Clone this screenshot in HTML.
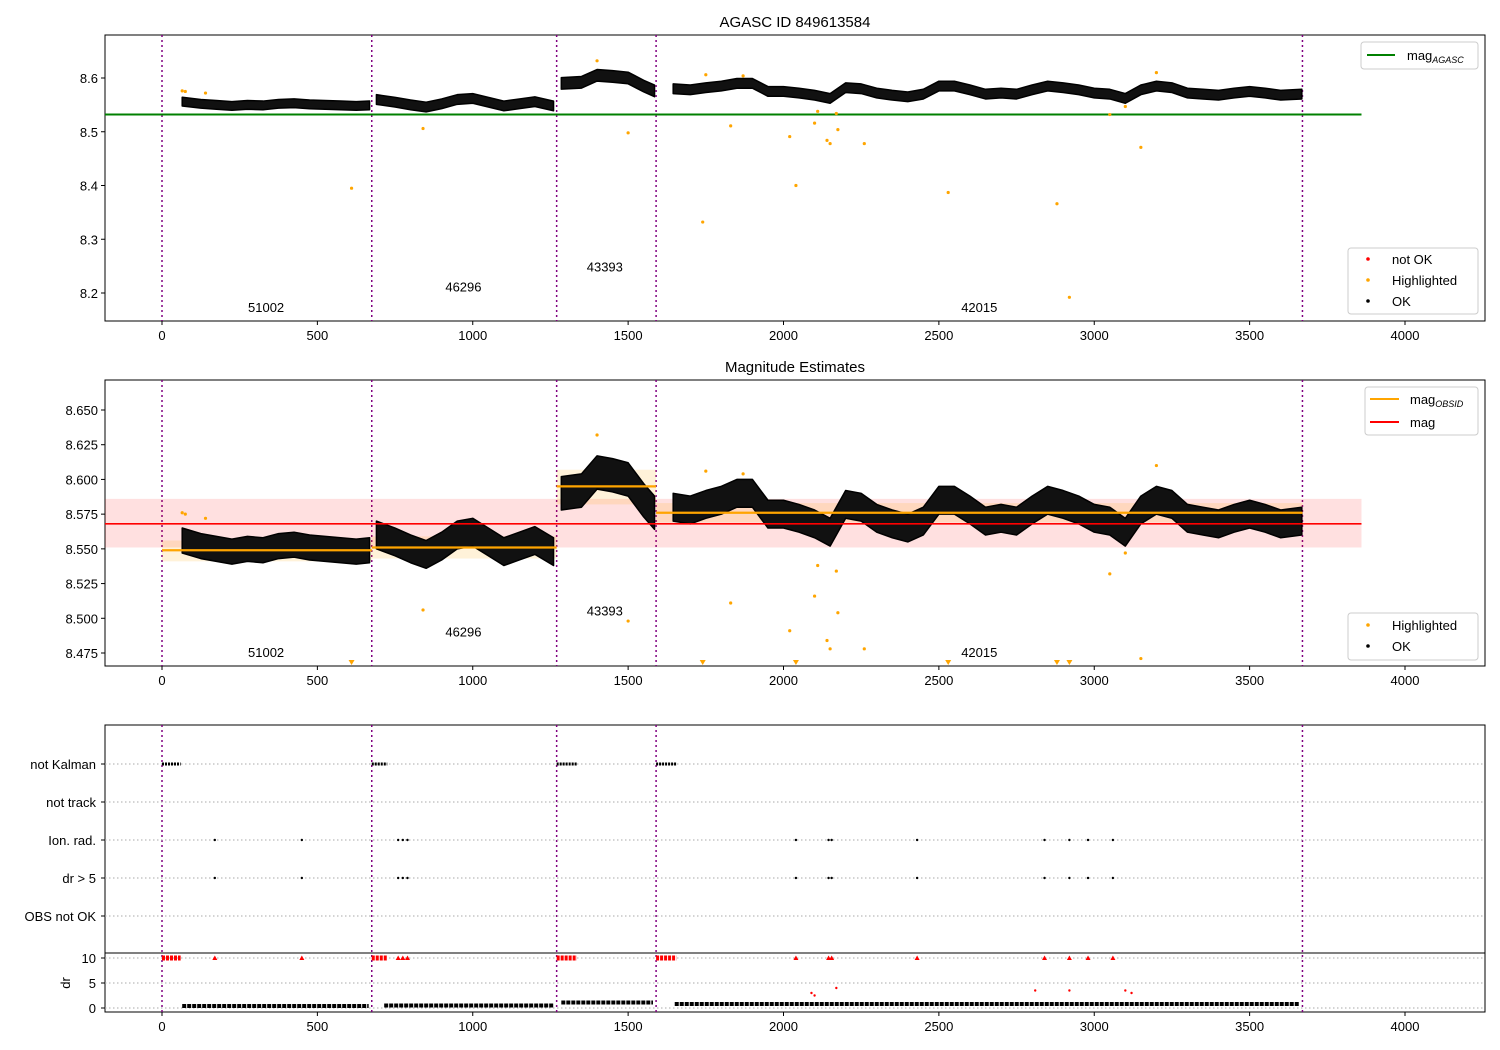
<!DOCTYPE html>
<html><head><meta charset="utf-8"><style>
body{margin:0;background:#fff;}
svg{display:block;font-family:"Liberation Sans","DejaVu Sans",sans-serif;}
</style></head><body>
<svg id="fig" width="1500" height="1050" viewBox="0 0 1500 1050"></svg>
<script>
// ---------- data ----------
const obsStarts = [0, 675, 1270, 1590];
const obsEnd = 3670;
const obsIds = ["51002", "46296", "43393", "42015"];
const obsLabelT = [335, 970, 1425, 2630];
const obsLabelP1 = [8.165, 8.203, 8.240, 8.165];
const obsLabelP2 = [8.472, 8.487, 8.502, 8.472];
const seg1T = [65,125,175,225,275,325,375,425,475,525,575,625,668];
const seg1M = [8.556,8.552,8.550,8.548,8.550,8.549,8.552,8.553,8.551,8.550,8.549,8.548,8.549];
const seg2T = [690,750,800,850,900,950,1000,1050,1100,1150,1200,1260];
const seg2M = [8.560,8.555,8.550,8.546,8.552,8.560,8.562,8.555,8.548,8.552,8.556,8.548];
const seg3T = [1285,1350,1400,1450,1500,1550,1585];
const seg3M = [8.590,8.592,8.605,8.603,8.600,8.585,8.576];
const seg4T = [1645,1700,1750,1800,1850,1900,1950,2000,2050,2100,2150,2200,2250,2300,2350,2400,2450,2500,2550,2600,2650,2700,2750,2800,2850,2900,2950,3000,3050,3100,3150,3200,3250,3300,3350,3400,3450,3500,3550,3600,3668];
const seg4M = [8.580,8.578,8.582,8.585,8.590,8.590,8.575,8.575,8.572,8.568,8.562,8.582,8.580,8.572,8.568,8.565,8.570,8.585,8.585,8.578,8.570,8.572,8.570,8.578,8.585,8.582,8.578,8.572,8.570,8.562,8.578,8.585,8.582,8.572,8.570,8.568,8.572,8.575,8.572,8.568,8.570];
const segSpread = [0.009, 0.010, 0.012, 0.010];
const hlT = [65,75,140,610,840,1400,1500,1740,1750,1830,1870,2020,2040,2100,2110,2140,2150,2170,2175,2260,2530,2880,2920,3050,3100,3150,3200];
const hlM = [8.576,8.575,8.572,8.395,8.506,8.632,8.498,8.332,8.606,8.511,8.604,8.491,8.400,8.516,8.538,8.484,8.478,8.534,8.504,8.478,8.387,8.366,8.192,8.532,8.547,8.471,8.610];
const magAgasc = 8.532;
const magMean = 8.568, magLo = 8.551, magHi = 8.586;
const obsMag = [8.549, 8.551, 8.595, 8.576];
const obsLo = [8.541, 8.543, 8.582, 8.569];
const obsHi = [8.556, 8.559, 8.607, 8.583];
const flagNames = ["not Kalman","not track","Ion. rad.","dr > 5","OBS not OK"];
const kalmanStart = [0, 675, 1270, 1590];
const kalmanEnd = [60, 725, 1335, 1655];
const ionT = [170,450,760,775,790,2040,2145,2155,2430,2840,2920,2980,3060];
const drStart = [65, 715, 1285, 1650];
const drSeg = [0.4, 0.5, 1.1, 0.8];
const drRedT = [2090,2100,2170,2810,2920,3100,3120];
const drRedV = [3.0,2.5,4.0,3.5,3.5,3.5,3.0];
const xTicks = [0,500,1000,1500,2000,2500,3000,3500,4000];
const p1Ticks = [8.2,8.3,8.4,8.5,8.6];
const p2Ticks = [8.475,8.500,8.525,8.550,8.575,8.600,8.625,8.650];
const drTicks = [0,5,10];

// ---------- scales ----------
const X0 = 105, X1 = 1485;
const sx = t => 162 + t * 1243 / 4000;
const sy1 = m => 78 + (8.6 - m) * 537.5;
const sy2 = m => 653 - (m - 8.475) * 1388.6;
const syDr = d => 1008 - d * 5.0;
const flagY = [764, 802, 840, 878, 916];
const NS = "http://www.w3.org/2000/svg";
const svg = document.getElementById("fig");
function mk(tag, a, p){const e=document.createElementNS(NS,tag);for(const k in a)e.setAttribute(k,a[k]);(p||svg).appendChild(e);return e;}
function txt(s,x,y,a,p){const e=mk("text",Object.assign({x:x,y:y,"font-size":13,fill:"#000"},a||{}),p);e.textContent=s;return e;}

function frame(top,bot,name){
  const g=mk("g",{});
  
  
  mk("rect",{x:X0,y:top,width:X1-X0,height:bot-top,fill:"none",stroke:"#000","stroke-width":1},g);
  xTicks.forEach(t=>{
    mk("line",{x1:sx(t),x2:sx(t),y1:bot,y2:bot+4,stroke:"#000"},g);
    const l=txt(String(t),sx(t),bot+19,{"text-anchor":"middle"},g);
    
    
  });
  obsStarts.concat([obsEnd]).forEach(t=>{
    const v=mk("line",{x1:sx(t),x2:sx(t),y1:top,y2:bot,stroke:"#800080","stroke-width":1.5,"stroke-dasharray":"2,3"},g);
    
    
  });
  return g;
}
const segsT=[seg1T,seg2T,seg3T,seg4T], segsM=[seg1M,seg2M,seg3M,seg4M];
function bands(sy,g,sw,scale){
  segsT.forEach((T,i)=>{
    const M=segsM[i], s=segSpread[i]*scale;
    let up=T.map((t,j)=>sx(t)+","+sy(M[j]+s)), lo=T.map((t,j)=>sx(t)+","+sy(M[j]-s)).reverse();
    const p=mk("polygon",{points:up.concat(lo).join(" "),fill:"#111",stroke:"#000","stroke-width":sw,"stroke-linejoin":"round"},g);
    
    
  });
}

// ===== Panel 1 =====
const t1=txt("AGASC ID 849613584",795,27,{"text-anchor":"middle","font-size":15});


const g1=frame(35,321,"agasc-panel");
p1Ticks.forEach(v=>{mk("line",{x1:X0-4,x2:X0,y1:sy1(v),y2:sy1(v),stroke:"#000"},g1);txt(v.toFixed(1),X0-7,sy1(v)+5,{"text-anchor":"end"},g1);});
const ga=mk("line",{x1:X0,x2:sx(3860),y1:sy1(magAgasc),y2:sy1(magAgasc),stroke:"green","stroke-width":2},g1);


bands(sy1,g1,1.5,0.9);
hlT.forEach((t,i)=>{const c=mk("circle",{cx:sx(t),cy:sy1(hlM[i]),r:1.6,fill:"orange"},g1);
  
  });
obsIds.forEach((id,i)=>{const l=txt(id,sx(obsLabelT[i]),sy1(obsLabelP1[i]),{"text-anchor":"middle"},g1);
  
  });
const lg1=mk("g",{});


mk("rect",{x:1361,y:42,width:117,height:27,rx:3,fill:"#fff",stroke:"#ccc"},lg1);
mk("line",{x1:1367,x2:1395,y1:55,y2:55,stroke:"green","stroke-width":2},lg1);
const tA=txt("mag",1407,60,{},lg1);const sA=mk("tspan",{"font-size":9,"font-style":"italic",dy:3},tA);sA.textContent="AGASC";
const lg2=mk("g",{});


mk("rect",{x:1348,y:248,width:130,height:66,rx:3,fill:"#fff",stroke:"#ccc"},lg2);
[["not OK","red",259],["Highlighted","orange",280],["OK","#000",301]].forEach(e=>{mk("circle",{cx:1368,cy:e[2],r:1.8,fill:e[1]},lg2);txt(e[0],1392,e[2]+5,{},lg2);});

// ===== Panel 2 =====
const t2=txt("Magnitude Estimates",795,372,{"text-anchor":"middle","font-size":15});


const g2=frame(380,666,"estimates-panel");
p2Ticks.forEach(v=>{mk("line",{x1:X0-4,x2:X0,y1:sy2(v),y2:sy2(v),stroke:"#000"},g2);txt(v.toFixed(3),X0-7,sy2(v)+5,{"text-anchor":"end"},g2);});
const mb=mk("rect",{x:X0,y:sy2(magHi),width:sx(3860)-X0,height:sy2(magLo)-sy2(magHi),fill:"red","fill-opacity":0.12},g2);


obsStarts.forEach((s,i)=>{const e=i<3?obsStarts[i+1]:obsEnd;
  const b=mk("rect",{x:sx(s),y:sy2(obsHi[i]),width:sx(e)-sx(s),height:sy2(obsLo[i])-sy2(obsHi[i]),fill:"orange","fill-opacity":0.15},g2);
  
  });
bands(sy2,g2,1.5,1.0);
obsStarts.forEach((s,i)=>{const e=i<3?obsStarts[i+1]:obsEnd;
  const l=mk("line",{x1:sx(s),x2:sx(e),y1:sy2(obsMag[i]),y2:sy2(obsMag[i]),stroke:"orange","stroke-width":2.2},g2);
  
  });
const ml=mk("line",{x1:X0,x2:sx(3860),y1:sy2(magMean),y2:sy2(magMean),stroke:"red","stroke-width":1.6},g2);


hlT.forEach((t,i)=>{
  if(hlM[i]<8.4656){const x=sx(t),y=663;const p=mk("polygon",{points:(x-3)+","+(y-3)+" "+(x+3)+","+(y-3)+" "+x+","+(y+2),fill:"orange"},g2);
    
    }
  else{const c=mk("circle",{cx:sx(t),cy:sy2(hlM[i]),r:1.6,fill:"orange"},g2);
    
    }
});
obsIds.forEach((id,i)=>{const l=txt(id,sx(obsLabelT[i]),sy2(obsLabelP2[i]),{"text-anchor":"middle"},g2);
  
  });
const lg3=mk("g",{});


mk("rect",{x:1365,y:387,width:113,height:48,rx:3,fill:"#fff",stroke:"#ccc"},lg3);
mk("line",{x1:1370,x2:1399,y1:399,y2:399,stroke:"orange","stroke-width":2},lg3);
const tB=txt("mag",1410,404,{},lg3);const sB=mk("tspan",{"font-size":9,"font-style":"italic",dy:3},tB);sB.textContent="OBSID";
mk("line",{x1:1370,x2:1399,y1:422,y2:422,stroke:"red","stroke-width":2},lg3);
txt("mag",1410,427,{},lg3);
const lg4=mk("g",{});


mk("rect",{x:1348,y:613,width:130,height:47,rx:3,fill:"#fff",stroke:"#ccc"},lg4);
[["Highlighted","orange",625],["OK","#000",646]].forEach(e=>{mk("circle",{cx:1368,cy:e[2],r:1.8,fill:e[1]},lg4);txt(e[0],1392,e[2]+5,{},lg4);});

// ===== Panel 3 =====
const g3=frame(725,1012,"flags-panel");
flagNames.forEach((n,i)=>{
  mk("line",{x1:X0,x2:X1,y1:flagY[i],y2:flagY[i],stroke:"#aaa","stroke-dasharray":"1.5,2.5"},g3);
  mk("line",{x1:X0-4,x2:X0,y1:flagY[i],y2:flagY[i],stroke:"#000"},g3);
  const l=txt(n,X0-9,flagY[i]+5,{"text-anchor":"end"},g3);
  
  
});
mk("line",{x1:X0,x2:X1,y1:953,y2:953,stroke:"#000"},g3);
drTicks.forEach(v=>{mk("line",{x1:X0,x2:X1,y1:syDr(v),y2:syDr(v),stroke:"#aaa","stroke-dasharray":"1.5,2.5"},g3);
  mk("line",{x1:X0-4,x2:X0,y1:syDr(v),y2:syDr(v),stroke:"#000"},g3);txt(String(v),X0-9,syDr(v)+5,{"text-anchor":"end"},g3);});
const drl=txt("dr",70,983,{"text-anchor":"middle",transform:"rotate(-90 70 983)"},g3);


kalmanStart.forEach((s,i)=>{
  const k=mk("line",{x1:sx(s),x2:sx(kalmanEnd[i]),y1:flagY[0],y2:flagY[0],stroke:"#000","stroke-width":3,"stroke-dasharray":"2,1"},g3);
  
  
  const r=mk("line",{x1:sx(s),x2:sx(kalmanEnd[i]),y1:syDr(10),y2:syDr(10),stroke:"red","stroke-width":5,"stroke-dasharray":"3,1"},g3);
  
  
});
ionT.forEach(t=>{
  [flagY[2],flagY[3]].forEach(y=>{const c=mk("circle",{cx:sx(t),cy:y,r:1.2,fill:"#000"},g3);
    
    });
  const x=sx(t),y=syDr(10);
  const p=mk("polygon",{points:(x-2.5)+","+(y+2)+" "+(x+2.5)+","+(y+2)+" "+x+","+(y-2.5),fill:"red"},g3);
  
  
});
obsStarts.forEach((s,i)=>{const e=i<3?obsStarts[i+1]:obsEnd;
  const b=mk("line",{x1:sx(drStart[i]),x2:sx(e-10),y1:syDr(drSeg[i]),y2:syDr(drSeg[i]),stroke:"#000","stroke-width":4,"stroke-dasharray":"4,1"},g3);
  
  });
drRedT.forEach((t,i)=>{const c=mk("circle",{cx:sx(t),cy:syDr(drRedV[i]),r:1.2,fill:"red"},g3);
  
  });
</script>
</body></html>
